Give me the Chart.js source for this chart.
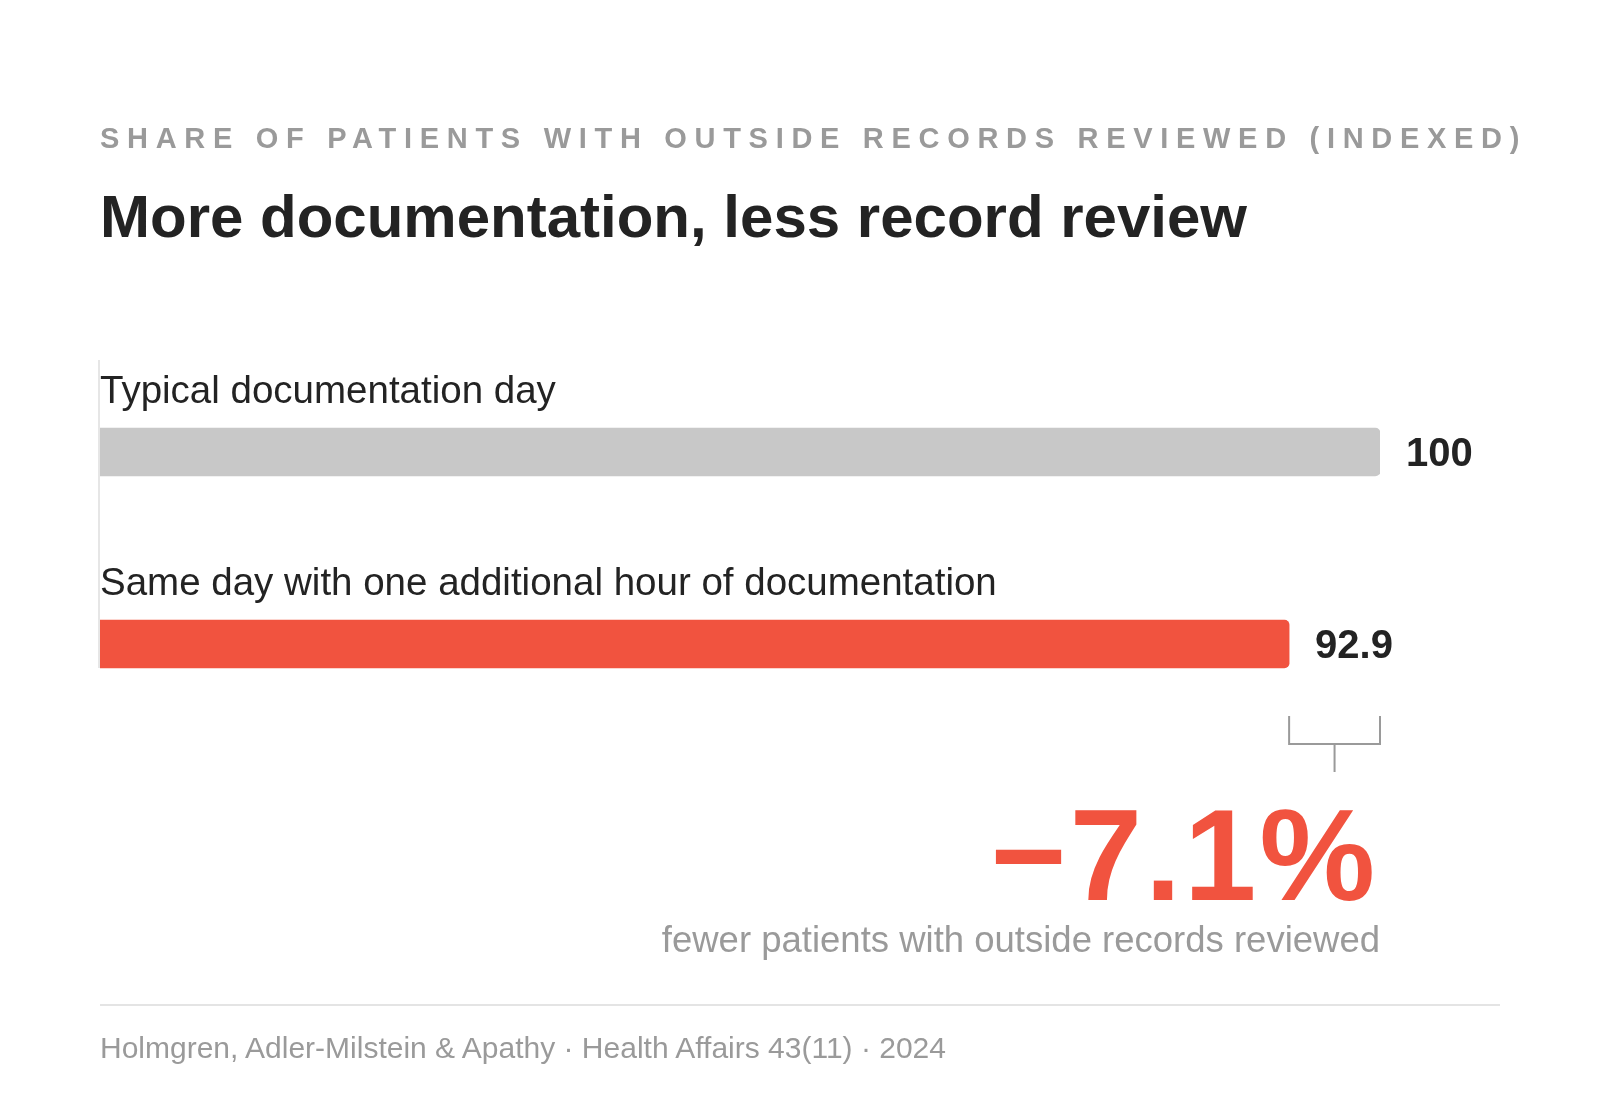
<!DOCTYPE html>
<html>
<head>
<meta charset="utf-8">
<script src="https://cdn.jsdelivr.net/npm/chart.js@4.4.1/dist/chart.umd.min.js"></script>
<style>
html,body{margin:0;padding:0;background:#fff;}
body{width:1600px;height:1100px;position:relative;overflow:hidden;font-family:"Liberation Sans",Arial,Helvetica,sans-serif;}
#chart{position:absolute;left:0;top:0;}
.txt{position:absolute;left:100px;white-space:nowrap;line-height:1;}
#kicker{top:124px;font-size:29px;font-weight:bold;letter-spacing:7.7px;color:#9a9a9a;}
#title{top:187px;font-size:60px;font-weight:bold;color:#232323;}
#rule{position:absolute;left:100px;top:1004px;width:1400px;height:2px;background:#e4e4e4;}
#source{top:1033px;font-size:30px;color:#9a9a9a;}
</style>
</head>
<body>
<canvas id="chart" width="1600" height="1100"></canvas>
<div class="txt" id="kicker">SHARE OF PATIENTS WITH OUTSIDE RECORDS REVIEWED (INDEXED)</div>
<div class="txt" id="title">More documentation, less record review</div>
<div id="rule"></div>
<div class="txt" id="source">Holmgren, Adler-Milstein &amp; Apathy · Health Affairs 43(11) · 2024</div>
<script>
// data
const categories=['Typical documentation day','Same day with one additional hour of documentation'];
const values=[100,92.9];
const barColors=['#c8c8c8','#f1533f'];
const changeNote='fewer patients with outside records reviewed';

const FONT='"Liberation Sans", Arial, Helvetica, sans-serif';
const RED='#f1533f';

function fmtValue(v){
  return String(v);
}

const annotate={
  id:'annotate',
  beforeDatasetsDraw(chart){
    const ctx=chart.ctx;
    const bars=chart.getDatasetMeta(0).data;
    const first=bars[0], last=bars[bars.length-1];
    ctx.save();
    ctx.strokeStyle='#e6e6e6';
    ctx.lineWidth=2;
    ctx.beginPath();
    ctx.moveTo(chart.chartArea.left-1,first.y-first.height/2-68);
    ctx.lineTo(chart.chartArea.left-1,last.y+last.height/2);
    ctx.stroke();
    ctx.restore();
  },
  afterDatasetsDraw(chart){
    const ctx=chart.ctx;
    const xs=chart.scales.x;
    const bars=chart.getDatasetMeta(0).data;
    ctx.save();
    bars.forEach((bar,i)=>{
      const top=bar.y-bar.height/2;
      ctx.fillStyle='#232323';
      ctx.textAlign='left';
      ctx.textBaseline='alphabetic';
      ctx.font='38.5px '+FONT;
      ctx.fillText(categories[i],xs.left,top-25);
      ctx.font='bold 40px '+FONT;
      ctx.fillText(fmtValue(values[i]),bar.x+26,bar.y+14);
    });

    // bracket between the two bar ends
    const base=bars[0], cmp=bars[1];
    const xa=cmp.x, xb=base.x;
    const y0=cmp.y+cmp.height/2+48, y1=y0+28, y2=y1+28;
    ctx.strokeStyle='#9a9a9a';
    ctx.lineWidth=2;
    ctx.beginPath();
    ctx.moveTo(xa,y0);ctx.lineTo(xa,y1);ctx.lineTo(xb,y1);ctx.lineTo(xb,y0);
    ctx.moveTo((xa+xb)/2,y1);ctx.lineTo((xa+xb)/2,y2);
    ctx.stroke();

    // change callout
    const change=(values[1]-values[0])/values[0]*100;
    const txt=change.toFixed(1).replace('-','\u2212')+'%';
    ctx.textAlign='right';
    ctx.fillStyle=RED;
    ctx.font='bold 130px '+FONT;
    if('letterSpacing' in ctx) ctx.letterSpacing='3px';
    ctx.fillText(txt,xb-2,y2+128);
    if('letterSpacing' in ctx) ctx.letterSpacing='0px';
    ctx.fillStyle='#9a9a9a';
    ctx.font='36.5px '+FONT;
    ctx.fillText(changeNote,xb,y2+180);
    ctx.restore();
  }
};

new Chart(document.getElementById('chart').getContext('2d'),{
  type:'bar',
  data:{
    labels:categories,
    datasets:[{
      data:values,
      backgroundColor:barColors,
      barThickness:48,
      borderRadius:5,
      borderSkipped:'start'
    }]
  },
  options:{
    indexAxis:'y',
    responsive:false,
    animation:false,
    layout:{padding:{left:100,right:220,top:356,bottom:360}},
    scales:{
      x:{display:false,min:0,max:100},
      y:{display:false}
    },
    plugins:{legend:{display:false},tooltip:{enabled:false}}
  },
  plugins:[annotate]
});
</script>
</body>
</html>
